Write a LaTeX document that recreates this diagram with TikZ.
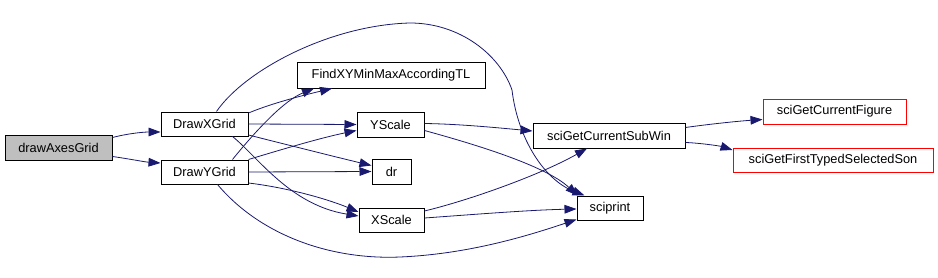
\documentclass[tikz,border=0pt]{standalone}
\usepackage{fontspec}
\setmainfont{Liberation Sans}
\usetikzlibrary{arrows.meta,calc}
\definecolor{edgeblue}{RGB}{25,25,112}
\definecolor{boxgray}{RGB}{191,191,191}
\begin{document}
\begin{tikzpicture}[x=0.75pt,y=-0.75pt,
  fn/.style={draw=black,fill=white,inner sep=0pt,font=\fontsize{9.6}{11}\selectfont,line width=0.75pt},
  ext/.style={fn,draw=red},
  edge/.style={draw=edgeblue,line width=0.6pt,-{Triangle[length=9pt,width=6.5pt]}}]
\useasboundingbox (0,0) rectangle (938,278);
\node[fn,fill=boxgray,minimum width=80.25pt,minimum height=18.75pt] (dag) at (58.5,147.5) {drawAxesGrid};
\node[fn,minimum width=65.25pt,minimum height=18pt] (dxg) at (204.5,124) {DrawXGrid};
\node[fn,minimum width=65.25pt,minimum height=18pt] (dyg) at (204.5,172) {DrawYGrid};
\node[fn,minimum width=141pt,minimum height=18.75pt] (fxy) at (391,75.5) {FindXYMinMaxAccordingTL};
\node[fn,minimum width=50.25pt,minimum height=18.75pt] (ysc) at (390.5,124.5) {YScale};
\node[fn,minimum width=29.25pt,minimum height=18.75pt] (dr) at (391.5,171.5) {dr};
\node[fn,minimum width=48.75pt,minimum height=18pt] (xsc) at (391.5,220) {XScale};
\node[fn,minimum width=114pt,minimum height=18.75pt] (sub) at (609,135.5) {sciGetCurrentSubWin};
\node[fn,minimum width=49.5pt,minimum height=18pt] (spr) at (610,208) {sciprint};
\node[ext,minimum width=107.25pt,minimum height=18.75pt] (fig) at (834.5,111.5) {sciGetCurrentFigure};
\node[ext,minimum width=150pt,minimum height=18pt] (son) at (833,160) {sciGetFirstTypedSelectedSon};
% drawAxesGrid
\draw[edge] ($(dag.east)+(0,-10)$) .. controls (130,133) and (145,132) .. ($(dxg.west)+(0,8)$);
\draw[edge] ($(dag.east)+(0,9)$) .. controls (130,159) and (145,162) .. ($(dyg.west)+(0,-9)$);
% DrawXGrid
\draw[edge] ($(dxg.east)+(0,-11)$) .. controls (270,104) and (300,96) .. ($(fxy.south)+(-59,0)$);
\draw[edge] (dxg.east) -- (ysc.west);
\draw[edge] ($(dxg.east)+(0,11)$) .. controls (300,148) and (340,158) .. ($(dr.west)+(0,-6)$);
\draw[edge] ($(dxg.south)+(28,0)$) .. controls (258,157) and (290,205) .. ($(xsc.west)+(0,-4)$);
\draw[edge] ($(dxg.north)+(12,0)$) .. controls (245,70) and (330,25) .. (410,23)
  .. controls (460,23) and (500,55) .. (512,90)
  .. controls (518,140) and (545,180) .. ($(spr.north west)+(8,0)$);
% DrawYGrid
\draw[edge] ($(dyg.north)+(28,0)$) .. controls (258,128) and (285,100) .. ($(fxy.south)+(-77,0)$);
\draw[edge] (dyg.north east) .. controls (280,150) and (320,138) .. ($(ysc.west)+(0,6)$);
\draw[edge] (dyg.east) -- (dr.west);
\draw[edge] ($(dyg.east)+(0,11)$) .. controls (290,188) and (330,200) .. ($(xsc.west)+(0,-8)$);
\draw[edge] ($(dyg.south)+(13,0)$) .. controls (260,235) and (330,260) .. (400,257)
  .. controls (470,254) and (530,235) .. ($(spr.south west)+(0,-1)$);
% YScale
\draw[edge] ($(ysc.east)+(0,-1)$) .. controls (460,124) and (500,128) .. ($(sub.west)+(0,-4.5)$);
\draw[edge] ($(ysc.east)+(0,6)$) .. controls (470,143) and (545,165) .. ($(spr.north west)+(1,0)$);
% XScale
\draw[edge] ($(xsc.east)+(0,-9)$) .. controls (470,200) and (540,175) .. ($(sub.south)+(-22,0)$);
\draw[edge] ($(xsc.east)+(0,-2)$) .. controls (480,214) and (530,210) .. ($(spr.west)+(0,1)$);
% sciGetCurrentSubWin
\draw[edge] ($(sub.east)+(0,-8)$) .. controls (710,124) and (740,121) .. ($(fig.west)+(0,8)$);
\draw[edge] ($(sub.east)+(0,7)$) .. controls (700,143) and (720,146) .. ($(son.west)+(0,-10)$);
\end{tikzpicture}
\end{document}
